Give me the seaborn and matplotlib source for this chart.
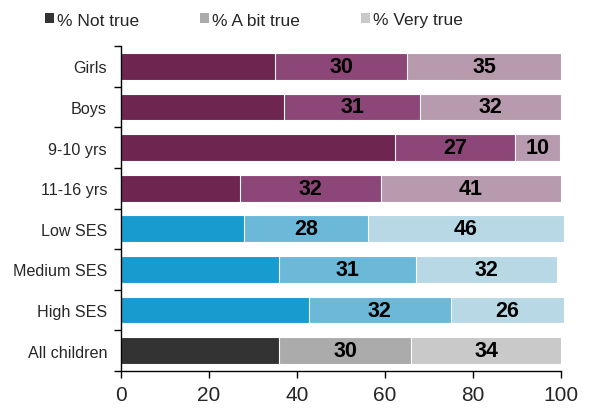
import matplotlib
matplotlib.use("Agg")
import matplotlib.pyplot as plt
import seaborn as sns
import pandas as pd
import numpy as np
from matplotlib.patches import Patch

categories = ["Girls", "Boys", "9-10 yrs", "11-16 yrs", "Low SES", "Medium SES", "High SES", "All children"]
not_true = [35, 37, 62.3, 27, 27.9, 36, 42.8, 36]
a_bit_true = [30, 31, 27.3, 32, 28.2, 31, 32.1, 30]
very_true = [35, 32, 10.2, 41, 44.5, 32, 25.7, 34]
a_bit_labels = ["30", "31", "27", "32", "28", "31", "32", "30"]
very_labels = ["35", "32", "10", "41", "46", "32", "26", "34"]
legend_labels = ["% Not true", "% A bit true", "% Very true"]
x_ticks = [0, 20, 40, 60, 80, 100]

groups = ["purple"] * 4 + ["blue"] * 3 + ["grey"]
shades = {
    "purple": ["#6E2650", "#8C4778", "#B79AAD"],
    "blue": ["#189BCE", "#6BB8D9", "#B8D8E5"],
    "grey": ["#333333", "#ABABAB", "#C9C9C9"],
}

sns.set_style("white")
plt.rcParams["font.family"] = ["Liberation Sans", "DejaVu Sans"]

df = pd.DataFrame({
    "cat": categories,
    "c1": np.array(not_true),
    "c2": np.array(not_true) + np.array(a_bit_true),
    "c3": np.array(not_true) + np.array(a_bit_true) + np.array(very_true),
})

fig = plt.figure(figsize=(5.94, 4.10), dpi=100)
ax = fig.add_axes([121 / 594, 1 - 372 / 410, 440 / 594, 325 / 410])

for level, col in zip([2, 1, 0], ["c3", "c2", "c1"]):
    pal = [shades[g][level] for g in groups]
    sns.barplot(data=df, x=col, y="cat", hue="cat", palette=pal, legend=False,
                orient="h", width=0.66, ax=ax, edgecolor="white", linewidth=0.8,
                saturation=1)
for p in ax.patches:
    p.set_clip_on(False)

for i in range(len(categories)):
    ax.text(not_true[i] + a_bit_true[i] / 2, i, a_bit_labels[i], ha="center", va="center",
            fontsize=15.5, fontweight="bold", color="black")
    ax.text(not_true[i] + a_bit_true[i] + very_true[i] / 2, i, very_labels[i], ha="center",
            va="center", fontsize=15.5, fontweight="bold", color="black")

ax.set_xlim(0, 100)
ax.set_ylim(len(categories) - 0.5, -0.5)
ax.set_xlabel("")
ax.set_ylabel("")
ax.set_xticks(x_ticks)
ax.set_xticklabels([str(t) for t in x_ticks], fontsize=15)
ax.set_yticks(np.arange(-0.5, len(categories) + 0.5, 1.0))
ax.set_yticklabels([])
ax.set_yticks(np.arange(len(categories)), minor=True)
ax.set_yticklabels(categories, minor=True, fontsize=11.6)
ax.tick_params(axis="y", which="minor", length=0, pad=10)
ax.tick_params(axis="y", which="major", length=5, width=1, color="black", direction="out", left=True)
ax.tick_params(axis="x", length=5, width=1, color="black", direction="out", bottom=True, pad=5)
for s in ["top", "right"]:
    ax.spines[s].set_visible(False)
for s in ["left", "bottom"]:
    ax.spines[s].set_color("black")
    ax.spines[s].set_linewidth(1)

handles = [Patch(facecolor=c, edgecolor="none") for c in shades["grey"]]
fig.legend(handles, legend_labels, ncol=3, loc="center left",
           bbox_to_anchor=(45 / 594, 1 - 21 / 410), frameon=False,
           handlelength=0.5, handleheight=0.5, handletextpad=0.2,
           columnspacing=3.5, fontsize=12.5, borderaxespad=0, borderpad=0)

fig.savefig("out.png", dpi=100)
